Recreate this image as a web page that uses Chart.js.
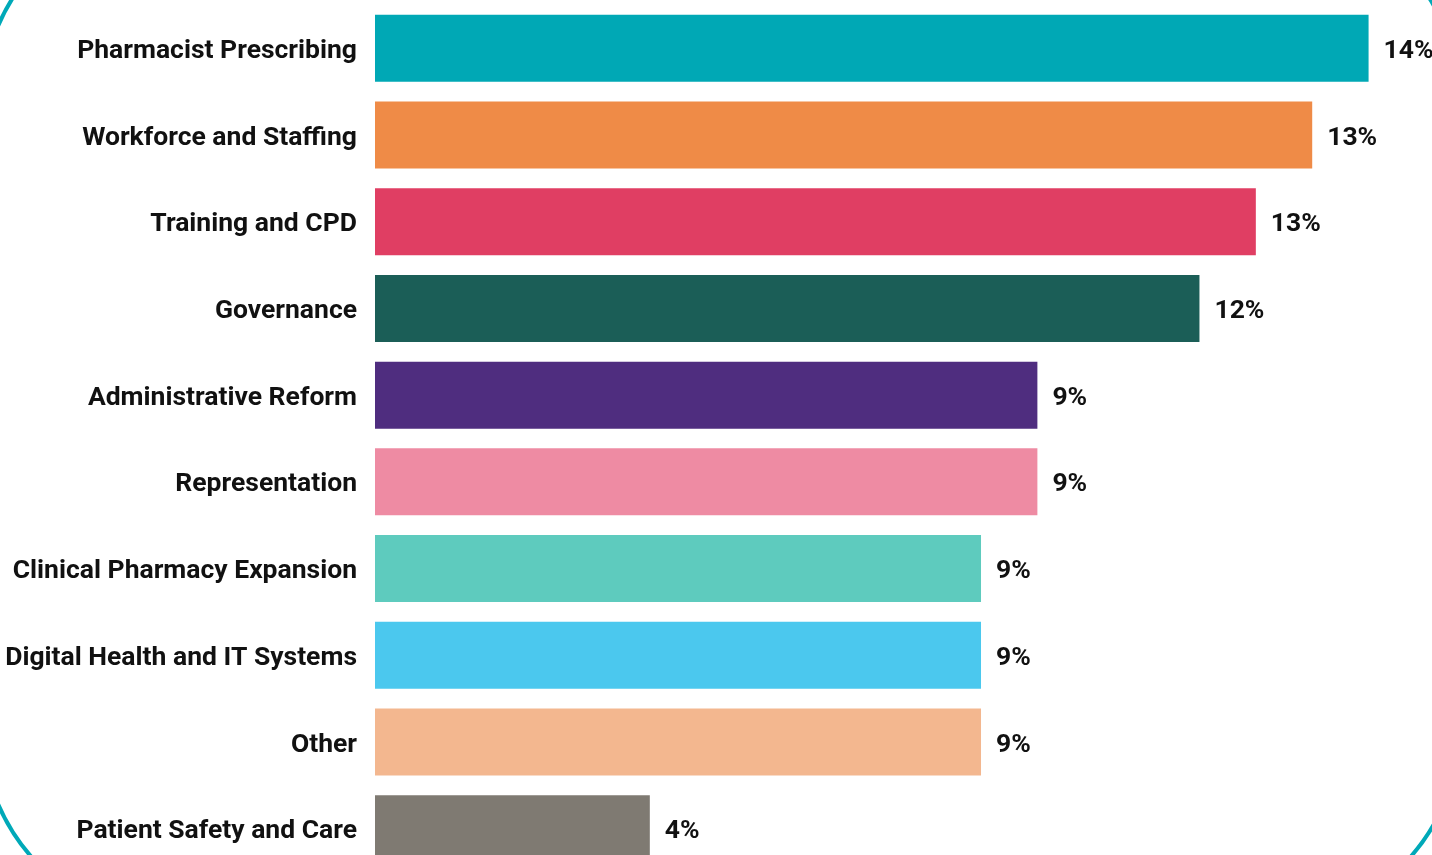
<!DOCTYPE html>
<html lang="en">
<head>
  <meta charset="UTF-8" />
  <title>Key Themes</title>
  <script src="https://cdn.jsdelivr.net/npm/chart.js"></script>
  <style>
    html, body { margin: 0; padding: 0; background: #fff; overflow: hidden; }
    .wrap { position: relative; width: 1432px; height: 855px; overflow: hidden; }
    .frame {
      position: absolute; left: -20px; top: -96px; width: 1482px; height: 1022px;
      border: 4px solid #00a9b8; border-radius: 200px; box-sizing: border-box;
    }
    #themeChart { position: absolute; left: 0; top: 0; }
  </style>
</head>
<body>
  <div class="wrap">
    <div class="frame"></div>
    <canvas id="themeChart" width="1432" height="880"></canvas>
  </div>

  <script>
    const themes = [
      "Pharmacist Prescribing",
      "Workforce and Staffing",
      "Training and CPD",
      "Governance",
      "Administrative Reform",
      "Representation",
      "Clinical Pharmacy Expansion",
      "Digital Health and IT Systems",
      "Other",
      "Patient Safety and Care"
    ];
    // share of responses, %
    const shares = [14.1, 13.3, 12.5, 11.7, 9.4, 9.4, 8.6, 8.6, 8.6, 3.9];
    const barColours = [
      "#00a8b5", "#ef8b47", "#e03e63", "#1b5e57", "#4f2d7f",
      "#ee8ba3", "#5ecbbe", "#4bc8ee", "#f3b78f", "#7f7a72"
    ];

    const labelFont = { family: "Roboto, 'Liberation Sans', sans-serif", size: 26.5, weight: "bold" };

    // writes the rounded percentage just past the end of each bar
    const valueLabels = {
      id: "valueLabels",
      afterDatasetsDraw(chart) {
        const ctx = chart.ctx;
        const meta = chart.getDatasetMeta(0);
        ctx.save();
        ctx.font = `bold ${labelFont.size}px ${labelFont.family}`;
        ctx.fillStyle = "#111";
        ctx.textAlign = "left";
        ctx.textBaseline = "middle";
        meta.data.forEach((bar, i) => {
          ctx.fillText(Math.round(shares[i]) + "%", bar.x + 15, bar.y + 3);
        });
        ctx.restore();
      }
    };

    new Chart(document.getElementById("themeChart"), {
      type: "bar",
      data: {
        labels: themes,
        datasets: [{
          data: shares,
          backgroundColor: barColours,
          borderWidth: 0,
          categoryPercentage: 1,
          barPercentage: 0.773
        }]
      },
      options: {
        indexAxis: "y",
        responsive: false,
        animation: false,
        layout: { padding: { top: 5, bottom: 8, left: 0, right: 0 } },
        plugins: {
          legend: { display: false },
          tooltip: { enabled: false }
        },
        scales: {
          x: {
            display: false,
            min: 0,
            max: 15
          },
          y: {
            grid: { display: false, drawTicks: false },
            border: { display: false },
            ticks: { color: "#111", font: labelFont, padding: 18, labelOffset: 3 },
            afterFit(scale) {
              // fixed label column; no extra room above/below the bars
              scale.width = 375;
              scale.paddingTop = 0;
              scale.paddingBottom = 0;
            }
          }
        }
      },
      plugins: [valueLabels]
    });
  </script>
</body>
</html>
